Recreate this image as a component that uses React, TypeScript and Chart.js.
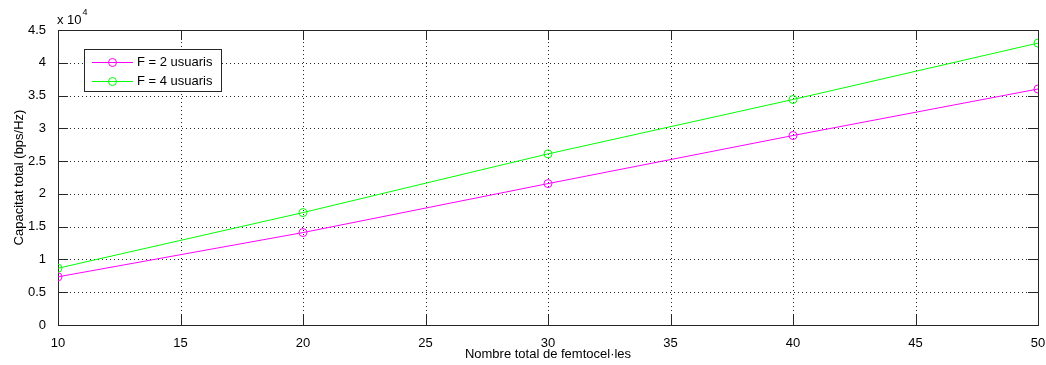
import React, { useEffect, useRef } from "react";
import { Chart, registerables } from "chart.js";

Chart.register(...registerables);

const femtocells = [10, 20, 30, 40, 50];
const capacityF2 = [7350, 14100, 21570, 28900, 36000];
const capacityF4 = [8660, 17150, 26100, 34400, 43000];
const seriesLabels = ["F = 2 usuaris", "F = 4 usuaris"];
const seriesColors = ["#ff00ff", "#00ff00"];
const xTitle = "Nombre total de femtocel·les";
const yTitle = "Capacitat total (bps/Hz)";

const FONT = "'Liberation Sans', Arial, Helvetica, sans-serif";

const matlabPlugin = {
  id: "matlabDecor",
  beforeDatasetsDraw(chart: any) {
    const { ctx, chartArea: a, scales } = chart;
    const xs = scales.x;
    const ys = scales.y;
    ctx.save();
    ctx.strokeStyle = "#262626";
    ctx.lineWidth = 1;
    ctx.setLineDash([1, 3]);
    xs.ticks.forEach((t: any) => {
      const px = Math.round(xs.getPixelForValue(t.value)) + 0.5;
      if (px <= a.left + 1 || px >= a.right - 1) return;
      ctx.beginPath();
      ctx.moveTo(px, a.top);
      ctx.lineTo(px, a.bottom);
      ctx.stroke();
    });
    ys.ticks.forEach((t: any) => {
      const py = Math.round(ys.getPixelForValue(t.value)) + 0.5;
      if (py <= a.top + 1 || py >= a.bottom - 1) return;
      ctx.beginPath();
      ctx.moveTo(a.left, py);
      ctx.lineTo(a.right, py);
      ctx.stroke();
    });
    ctx.setLineDash([]);
    const tl = 10;
    xs.ticks.forEach((t: any) => {
      const px = Math.round(xs.getPixelForValue(t.value)) + 0.5;
      ctx.beginPath();
      ctx.moveTo(px, a.bottom);
      ctx.lineTo(px, a.bottom - tl);
      ctx.moveTo(px, a.top);
      ctx.lineTo(px, a.top + tl);
      ctx.stroke();
    });
    ys.ticks.forEach((t: any) => {
      const py = Math.round(ys.getPixelForValue(t.value)) + 0.5;
      ctx.beginPath();
      ctx.moveTo(a.left, py);
      ctx.lineTo(a.left + tl, py);
      ctx.moveTo(a.right, py);
      ctx.lineTo(a.right - tl, py);
      ctx.stroke();
    });
    ctx.strokeRect(Math.round(a.left) + 0.5, Math.round(a.top) + 0.5, Math.round(a.right - a.left), Math.round(a.bottom - a.top));
    ctx.fillStyle = "#000";
    ctx.font = `13px ${FONT}`;
    ctx.textAlign = "left";
    ctx.textBaseline = "alphabetic";
    ctx.fillText("x 10", a.left - 1, a.top - 6);
    const w = ctx.measureText("x 10").width;
    ctx.font = `9px ${FONT}`;
    ctx.fillText("4", a.left - 1 + w + 1, a.top - 15);
    ctx.restore();
  },
  afterDatasetsDraw(chart: any) {
    const { ctx } = chart;
    ctx.save();
    const bx = 84.5, by = 49.5, bw = 137, bh = 42;
    ctx.fillStyle = "#fff";
    ctx.fillRect(bx, by, bw, bh);
    ctx.strokeStyle = "#262626";
    ctx.lineWidth = 1;
    ctx.strokeRect(bx, by, bw, bh);
    chart.data.datasets.forEach((ds: any, i: number) => {
      const y = 62.5 + i * 19;
      ctx.strokeStyle = ds.borderColor;
      ctx.lineWidth = 1;
      ctx.beginPath();
      ctx.moveTo(92, y);
      ctx.lineTo(133, y);
      ctx.stroke();
      ctx.beginPath();
      ctx.arc(112.5, y, 4, 0, Math.PI * 2);
      ctx.stroke();
      ctx.fillStyle = "#000";
      ctx.font = `13px ${FONT}`;
      ctx.textAlign = "left";
      ctx.textBaseline = "middle";
      ctx.fillText(ds.label, 137, y);
    });
    ctx.restore();
  },
};

export default function App() {
  const ref = useRef<HTMLCanvasElement>(null);
  useEffect(() => {
    document.body.style.margin = "0";
    const mk = (i: number, vals: number[]) => ({
      label: seriesLabels[i],
      data: femtocells.map((x, j) => ({ x, y: vals[j] })),
      borderColor: seriesColors[i],
      backgroundColor: "transparent",
      borderWidth: 1,
      pointRadius: 4,
      pointBorderWidth: 1,
      pointBackgroundColor: "transparent",
      pointBorderColor: seriesColors[i],
    });
    const chart = new Chart(ref.current as HTMLCanvasElement, {
      type: "line",
      data: { datasets: [mk(0, capacityF2), mk(1, capacityF4)] },
      options: {
        animation: false,
        responsive: false,
        devicePixelRatio: 1,
        layout: { padding: { top: 30, right: 8, left: 0, bottom: 0 } },
        plugins: { legend: { display: false }, tooltip: { enabled: false } },
        scales: {
          x: {
            type: "linear",
            min: 10,
            max: 50,
            grid: { display: false },
            border: { display: false },
            ticks: {
              stepSize: 5,
              color: "#000",
              font: { family: FONT, size: 13 },
              padding: 3,
              maxRotation: 0,
            },
            title: {
              display: true,
              text: xTitle,
              color: "#000",
              font: { family: FONT, size: 13 },
              padding: { top: 0, bottom: 3 },
            },
            afterFit(scale: any) {
              scale.height = 40;
              scale.paddingLeft = 0;
              scale.paddingRight = 0;
            },
          },
          y: {
            type: "linear",
            min: 0,
            max: 45000,
            grid: { display: false },
            border: { display: false },
            ticks: {
              stepSize: 5000,
              color: "#000",
              font: { family: FONT, size: 13 },
              padding: 4,
              callback: (v: any) => String(Number(v) / 10000),
            },
            title: {
              display: true,
              text: yTitle,
              color: "#000",
              font: { family: FONT, size: 13 },
              padding: { top: 12, bottom: 4 },
            },
            afterFit(scale: any) {
              scale.width = 58;
              scale.paddingTop = 0;
              scale.paddingBottom = 0;
            },
          },
        },
      },
      plugins: [matlabPlugin],
    } as any);
    return () => chart.destroy();
  }, []);
  return (
    <div style={{ position: "absolute", left: 0, top: 0, width: 1046, height: 365, background: "#fff" }}>
      <canvas ref={ref} width={1046} height={365} />
    </div>
  );
}
